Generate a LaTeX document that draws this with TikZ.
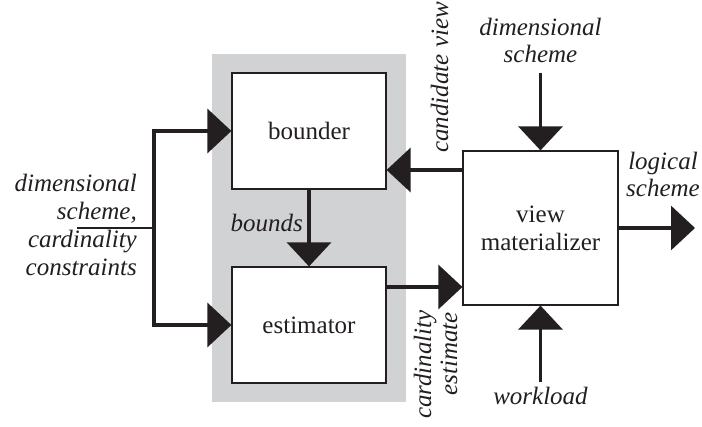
\documentclass[tikz,border=0pt]{standalone}
\usepackage{fontspec}
\setmainfont{Liberation Serif}
\usetikzlibrary{arrows.meta}
\definecolor{ink}{RGB}{35,31,32}
\definecolor{panel}{RGB}{209,210,212}
\begin{document}
\begin{tikzpicture}[x=1pt,y=-1pt,
  box/.style={draw=ink, line width=1.2pt, fill=white, inner sep=0pt,
    font=\fontsize{25}{28}\selectfont, text=ink, align=center},
  arr/.style={draw=ink, line width=3.3pt, line join=miter, -{Triangle[length=24pt,width=44pt]}},
  stub/.style={draw=ink, line width=2pt},
  lbl/.style={font=\fontsize{25}{28}\selectfont\itshape, text=ink, inner sep=0pt}
]
\useasboundingbox (0,0) rectangle (702,427);
\fill[white] (0,0) rectangle (702,427);
\node[fill=panel, minimum width=194pt, minimum height=348pt, inner sep=0pt] (panel) at (309,228) {};

\node[box, minimum width=154pt, minimum height=116pt] (bounder) at (309,131) {bounder};
\node[box, minimum width=154pt, minimum height=116pt] (estimator) at (309,325) {estimator};
\node[box, minimum width=155pt, minimum height=154pt] (vm) at (540.5,228) {view\\materializer};

% left input
\coordinate (in) at (77,228);
\coordinate (split) at (154,228);
\draw[stub] (in) -- (split);
\draw[arr] (split) |- (bounder.west);
\draw[arr] (split) |- (estimator.west);

% bounds
\draw[arr] (bounder.south) -- (estimator.north);

% candidate view
\coordinate (cv) at ([yshift=58pt]vm.west);
\draw[arr] (cv) -- (cv -| bounder.east);

% cardinality estimate
\coordinate (ce) at ([yshift=38pt]estimator.east);
\draw[arr] (ce) -- (ce -| vm.west);

% dimensional scheme in
\coordinate (ds) at (540.5,73);
\draw[arr] (ds) -- (vm.north);

% workload in
\coordinate (wl) at (540.5,382);
\draw[arr] (wl) -- (vm.south);

% logical scheme out
\coordinate (out) at (695,228);
\draw[arr] (vm.east) -- (out);

% labels
\node[lbl, anchor=base east] (l1) at (137,192) {dimensional};
\node[lbl, anchor=base east] (l2) at (137,220) {scheme,};
\node[lbl, anchor=base east] (l3) at (137,248) {cardinality};
\node[lbl, anchor=base east] (l4) at (137,276) {constraints};

\node[lbl, anchor=base] (d1) at (540.5,36) {dimensional};
\node[lbl, anchor=base] (d2) at (540.5,63) {scheme};

\node[lbl, anchor=base] (g1) at (663,170) {logical};
\node[lbl, anchor=base] (g2) at (663,197) {scheme};

\node[lbl, anchor=base] (w) at (540.5,405) {workload};
\node[lbl, anchor=base east] (b) at (303,232) {bounds};

\node[lbl, rotate=90, anchor=base west] (c) at (448,153) {candidate view};
\node[lbl, rotate=90, anchor=base east] (e1) at (431,310) {cardinality};
\node[lbl, rotate=90, anchor=base east] (e2) at (457,312) {estimate};
\end{tikzpicture}
\end{document}
